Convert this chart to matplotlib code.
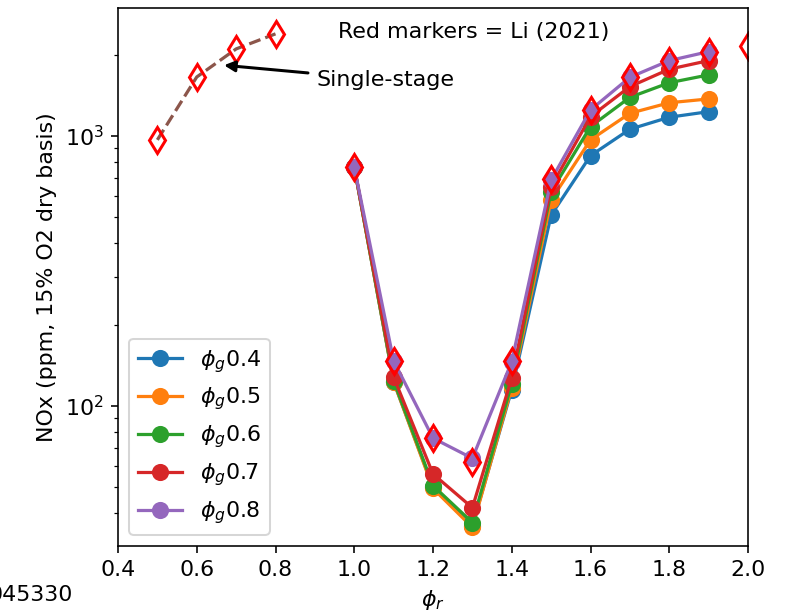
import matplotlib
matplotlib.use('Agg')
import matplotlib.pyplot as plt

phi_r = [1.0, 1.1, 1.2, 1.3, 1.4, 1.5, 1.6, 1.7, 1.8, 1.9]
nox_g04 = [768, 123, 50, 36, 115, 509, 845, 1059, 1173, 1230]
nox_g05 = [768, 123, 49.5, 35.5, 117, 579, 967, 1213, 1327, 1371]
nox_g06 = [768, 124, 50.7, 37, 121, 622, 1083, 1390, 1574, 1683]
nox_g07 = [768, 128, 56, 42, 127, 649, 1179, 1523, 1767, 1901]
nox_g08 = [768, 147, 76, 64, 146, 687, 1248, 1649, 1901, 2052]
labels = ['$\\phi_g$0.4', '$\\phi_g$0.5', '$\\phi_g$0.6', '$\\phi_g$0.7', '$\\phi_g$0.8']

single_x = [0.5, 0.6, 0.7, 0.8]
single_nox = [967, 1653, 2100, 2388]

li_x = [0.5, 0.6, 0.7, 0.8, 1.0, 1.1, 1.2, 1.3, 1.4, 1.5, 1.6, 1.7, 1.8, 1.9, 2.0]
li_nox = [967, 1653, 2100, 2388, 770, 147, 76, 62, 147, 690, 1250, 1650, 1900, 2050, 2154]

plt.rcParams['font.size'] = 11

dpi = 145
fig = plt.figure(figsize=(787 / dpi, 614 / dpi), dpi=dpi)
ax = fig.add_axes([118 / 787, 1 - 546 / 614, 630 / 787, 538 / 614])

for y, lab in zip([nox_g04, nox_g05, nox_g06, nox_g07, nox_g08], labels):
    ax.plot(phi_r, y, marker='o', markersize=7.5, lw=1.6, label=lab)

ax.plot(single_x, single_nox, '--', color='tab:brown', lw=1.6)
ax.plot(li_x, li_nox, 'd', markersize=9, markerfacecolor='none',
        markeredgecolor='red', markeredgewidth=1.5)

ax.annotate('Single-stage', xy=(0.659, 1833), xytext=(0.903, 1611),
            va='center', ha='left',
            arrowprops=dict(arrowstyle='-|>', color='black', lw=1.5))
ax.text(0.565, 0.955, 'Red markers = Li (2021)', transform=ax.transAxes,
        ha='center', va='center')

ax.set_yscale('log')
ax.set_xlim(0.4, 2.0)
ax.set_ylim(30.3, 2977)
ax.set_xticks([0.4, 0.6, 0.8, 1.0, 1.2, 1.4, 1.6, 1.8, 2.0])
ax.set_xlabel('$\\phi_r$')
ax.set_ylabel('NOx (ppm, 15% O2 dry basis)')
ax.legend(loc='lower left')

fig.text(73 / 787, 1 - 595 / 614, '045330', ha='right', va='center')

fig.savefig('out.png', dpi=dpi)
